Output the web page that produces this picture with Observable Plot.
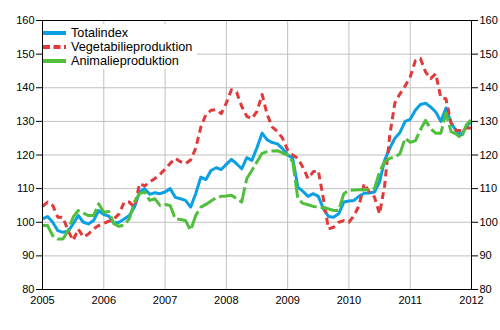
<!DOCTYPE html>
<html><head><meta charset="utf-8">
<script src="https://cdn.jsdelivr.net/npm/d3@7"></script>
<script src="https://cdn.jsdelivr.net/npm/@observablehq/plot@0.6"></script>
<style>
body{margin:0;background:#fff;font-family:Arial,"Liberation Sans",sans-serif;}
#wrap{position:relative;width:500px;height:330px;}
#legend{position:absolute;left:43px;top:24px;width:154px;height:45px;background:#fff;font-size:12.7px;color:#000;}
.row{position:absolute;left:0;height:14px;display:flex;align-items:center;white-space:nowrap;}
.row svg{margin-right:4px;}
</style></head><body><div id="wrap"><div id="legend"></div></div>
<script>
const startYear = 2005;
const yearTicks = [2005, 2006, 2007, 2008, 2009, 2010, 2011, 2012];
const valueTicks = [80, 90, 100, 110, 120, 130, 140, 150, 160];
const seriesNames = ["Totalindex", "Vegetabilieproduktion", "Animalieproduktion"];
const seriesColors = ["#0aa0e3", "#e03a3a", "#4fbf3c"];

const totalindex = [
  101, 101.7, 100, 97.5, 97, 97.3, 99.5, 102, 100, 99.5, 100.5, 103.5,
  102.3, 101.8, 99.7, 100, 101, 102, 104.5, 109, 110, 108.3, 108.8, 108.5,
  109, 110, 107.4, 107, 106.5, 104.5, 108.5, 113.4, 112.7, 115.4, 116.2, 115.7,
  117.2, 118.7, 117.4, 115.9, 119.2, 118.4, 122.2, 126.5, 124.5, 123.7, 123.3, 121.9,
  120, 119, 110.4, 109.2, 107.7, 108.5, 107.7, 104, 101.7, 101.5, 102.5, 106,
  106.3, 106.5, 107.8, 108.6, 108.7, 109, 112, 118.5, 122, 125, 126.7, 130,
  130.6, 133.3, 135, 135.4, 134.3, 132.8, 130, 134, 129.5, 127.2, 126, 128.5,
  130
];
const vegetabilie = [
  104.7, 106, 105, 101.5, 101.5, 97.5, 94.6, 98, 95.6, 96.5, 98, 99,
  99.7, 100.3, 101, 102.5, 106, 106, 104.5, 111.5, 110.8, 112, 113, 114.2,
  115.8, 117.5, 119, 118, 117.4, 118.5, 122, 128.3, 132, 133.3, 133.5, 132.3,
  135.5, 139.4, 138.7, 134.5, 131.5, 130.8, 133, 138, 132, 128.3, 127, 125,
  121.5, 120, 119, 116.3, 113, 115, 115.4, 107, 98, 98.5, 100, 100.5,
  100, 102, 105, 111.5, 109, 107.5, 102.5, 111, 126, 135.5, 138.2, 140.5,
  143.2, 148, 148.7, 144.7, 142.7, 144.2, 137, 136.7, 129.5, 127.3, 127.3, 128,
  128
];
const animalie = [
  99, 99, 96, 95, 95, 97.5, 101.5, 103.5, 102.7, 102, 102, 105.5,
  103, 103.2, 99.5, 98.8, 99.2, 101, 106, 108.5, 109, 106.5, 107, 105,
  105.3, 105, 101, 100.8, 100.5, 97.6, 102, 104.5, 105.3, 106.3, 107.3, 107.7,
  107.8, 108, 107, 106, 113, 115.4, 118, 120.5, 121, 121.2, 121.3, 120.6,
  120, 118, 107, 105.6, 105.2, 104.7, 104.6, 104.3, 104, 103.5, 103.5, 108.5,
  109.5, 109.6, 109.7, 109.7, 109.7, 110, 115, 118, 119, 119.4, 120.4, 125,
  123.8, 124.2, 127.5, 130.3, 127.8, 126.5, 126.5, 132.5, 127, 126.2, 125, 129,
  130.6
];

const seriesValues = [totalindex, vegetabilie, animalie];
const dashes = [null, "7,4.5", "18,4"];
const toRows = (arr, name) => arr.map((v, i) => ({t: startYear + i / 12, v, s: name}));

const fontStyle = {fontFamily: "Arial, 'Liberation Sans', sans-serif", fontSize: "11px", color: "#000", background: "#fff"};

const lineMarks = seriesValues.map((arr, k) =>
  Plot.line(toRows(arr, seriesNames[k]), {
    x: "t", y: "v", stroke: seriesColors[k], strokeWidth: 3,
    strokeDasharray: dashes[k] ?? undefined, strokeLinejoin: "round", strokeLinecap: "butt"
  })
);

const chart = Plot.plot({
  width: 500, height: 330,
  marginLeft: 42, marginRight: 29, marginTop: 20, marginBottom: 41,
  style: fontStyle,
  x: {domain: [2005, 2012], type: "linear"},
  y: {domain: [80, 160]},
  marks: [
    Plot.gridX(yearTicks, {stroke: "#c0c0c0", strokeOpacity: 1}),
    Plot.gridY(valueTicks, {stroke: "#c0c0c0", strokeOpacity: 1}),
    ...lineMarks,
    Plot.frame({stroke: "#000"}),
    Plot.axisY(valueTicks, {anchor: "left", tickSize: 6, tickPadding: 2, label: null}),
    Plot.axisY(valueTicks, {anchor: "right", tickSize: 6, tickPadding: 2, label: null}),
    Plot.axisX(yearTicks, {anchor: "bottom", tickSize: 0, tickPadding: 7, tickFormat: d => String(d), label: null})
  ]
});
const wrap = document.getElementById("wrap");
wrap.insertBefore(chart, wrap.firstChild);

const legend = document.getElementById("legend");
seriesNames.forEach((name, k) => {
  const row = document.createElement("div");
  row.className = "row";
  row.style.top = (1.5 + k * 14.2) + "px";
  const ns = "http://www.w3.org/2000/svg";
  const svg = document.createElementNS(ns, "svg");
  svg.setAttribute("width", 24); svg.setAttribute("height", 14);
  const ln = document.createElementNS(ns, "line");
  ln.setAttribute("x1", 0); ln.setAttribute("x2", 23);
  ln.setAttribute("y1", 7); ln.setAttribute("y2", 7);
  ln.setAttribute("stroke", seriesColors[k]); ln.setAttribute("stroke-width", 4);
  if (k === 1) ln.setAttribute("stroke-dasharray", "7,3.5");
  svg.appendChild(ln);
  const span = document.createElement("span");
  span.textContent = name;
  row.appendChild(svg); row.appendChild(span);
  legend.appendChild(row);
});
</script></body></html>
